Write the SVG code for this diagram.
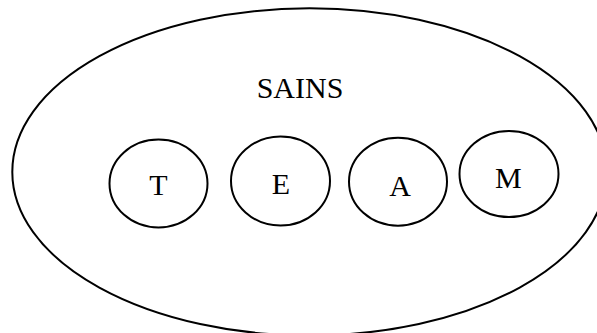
<svg xmlns="http://www.w3.org/2000/svg" width="597" height="333" viewBox="0 0 597 333">
<style>
.s{fill:none;stroke:#000;stroke-width:2}
.t{font-family:"Liberation Serif","Times New Roman",serif;font-size:30px;fill:#000;text-anchor:middle}
</style>
<rect width="597" height="333" fill="#fff"/>
<g id="sains">
<ellipse class="s" cx="309.5" cy="171.9" rx="297.2" ry="163.6"/>
<text class="t" x="300" y="98.3">SAINS</text>
</g>
<g id="T">
<ellipse class="s" cx="158.5" cy="183.5" rx="49" ry="44"/>
<text class="t" x="158.3" y="195">T</text>
</g>
<g id="E">
<ellipse class="s" cx="280.5" cy="181" rx="49.5" ry="44.5"/>
<text class="t" x="281" y="193.5">E</text>
</g>
<g id="A">
<ellipse class="s" cx="398" cy="181.7" rx="49" ry="44"/>
<text class="t" x="400" y="196">A</text>
</g>
<g id="M">
<ellipse class="s" cx="509" cy="174" rx="49.5" ry="43"/>
<text class="t" x="508.3" y="187.7">M</text>
</g>
<g id="connectors"/>
</svg>
